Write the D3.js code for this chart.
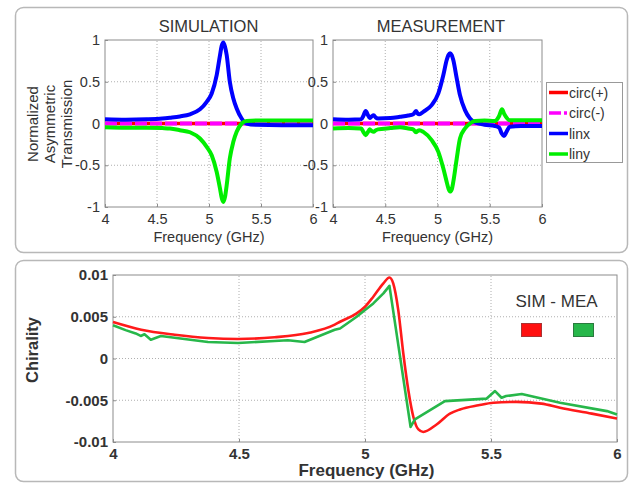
<!DOCTYPE html>
<html>
<head>
<meta charset="utf-8">
<script src="https://cdn.jsdelivr.net/npm/d3@7"></script>
<style>
  html, body { margin: 0; padding: 0; background: #fff; }
  svg { display: block; font-family: "Liberation Sans", Arial, sans-serif; }
</style>
</head>
<body>
<svg id="chart" width="630" height="484"></svg>
<script>
// ---- Asymmetric transmission, simulation ----
const simFreq = [4.0, 4.2, 4.4, 4.55, 4.625, 4.72, 4.817, 4.913, 4.978, 5.026, 5.074, 5.106, 5.122, 5.138, 5.154, 5.17, 5.2, 5.234, 5.266, 5.314, 5.36, 5.45, 5.7, 6.0];
const simLinx = [0.05, 0.045, 0.05, 0.06, 0.07, 0.085, 0.11, 0.17, 0.26, 0.36, 0.58, 0.82, 0.93, 0.97, 0.92, 0.82, 0.5, 0.30, 0.18, 0.06, 0.0, -0.015, -0.02, -0.02];
const simLiny = [-0.045, -0.05, -0.05, -0.055, -0.06, -0.08, -0.105, -0.18, -0.28, -0.38, -0.58, -0.78, -0.89, -0.94, -0.88, -0.74, -0.42, -0.22, -0.10, 0.0, 0.03, 0.035, 0.035, 0.035];
const simCircPlus = [0, 0];
const simCircMinus = [0, 0];

// ---- Asymmetric transmission, measurement ----
const meaFreq = [4.0, 4.15, 4.27, 4.29, 4.313, 4.335, 4.351, 4.37, 4.389, 4.41, 4.43, 4.55, 4.641, 4.72, 4.768, 4.794, 4.81, 4.826, 4.864, 4.944, 5.008, 5.056, 5.088, 5.105, 5.12, 5.136, 5.151, 5.184, 5.215, 5.263, 5.311, 5.359, 5.45, 5.55, 5.59, 5.615, 5.636, 5.66, 5.69, 5.8, 6.0];
const meaLinx = [0.05, 0.045, 0.05, 0.09, 0.15, 0.1, 0.065, 0.085, 0.1, 0.07, 0.06, 0.065, 0.08, 0.095, 0.11, 0.15, 0.12, 0.11, 0.14, 0.22, 0.36, 0.58, 0.76, 0.82, 0.84, 0.82, 0.76, 0.54, 0.34, 0.16, 0.06, 0.015, -0.015, -0.03, -0.05, -0.12, -0.15, -0.1, -0.04, -0.03, -0.03];
const meaLinyFreq = [4.0, 4.15, 4.27, 4.29, 4.313, 4.335, 4.351, 4.37, 4.389, 4.41, 4.43, 4.55, 4.641, 4.72, 4.768, 4.794, 4.81, 4.826, 4.864, 4.944, 5.008, 5.056, 5.088, 5.105, 5.12, 5.136, 5.151, 5.184, 5.215, 5.263, 5.311, 5.359, 5.45, 5.547, 5.59, 5.617, 5.64, 5.69, 5.8, 6.0];
const meaLiny = [-0.06, -0.055, -0.06, -0.1, -0.14, -0.1, -0.07, -0.09, -0.1, -0.08, -0.07, -0.055, -0.045, -0.06, -0.07, -0.105, -0.09, -0.08, -0.1, -0.2, -0.34, -0.54, -0.70, -0.78, -0.815, -0.79, -0.70, -0.42, -0.18, -0.06, 0.0, 0.03, 0.035, 0.03, 0.09, 0.17, 0.11, 0.04, 0.04, 0.04];
const meaCircPlus = [0, 0];
const meaCircMinus = [0, 0];

// ---- Chirality ----
const chiSimFreq = [4.0, 4.112, 4.245, 4.377, 4.496, 4.641, 4.774, 4.88, 4.901, 4.967, 5.0, 5.033, 5.073, 5.097, 5.112, 5.132, 5.152, 5.172, 5.192, 5.212, 5.231, 5.284, 5.337, 5.377, 5.45, 5.51, 5.602, 5.7, 5.774, 5.9, 6.0];
const chiSim = [0.00437, 0.00345, 0.00285, 0.00246, 0.00234, 0.00254, 0.00305, 0.00405, 0.0044, 0.0054, 0.0062, 0.0074, 0.009, 0.0097, 0.009, 0.0058, 0.0006, -0.0038, -0.007, -0.0085, -0.0088, -0.0079, -0.0066, -0.0061, -0.0056, -0.0053, -0.0052, -0.0054, -0.0059, -0.0066, -0.0072];
const chiMeaFreq = [4.0, 4.05, 4.09, 4.11, 4.125, 4.15, 4.19, 4.377, 4.496, 4.641, 4.694, 4.76, 4.88, 4.901, 4.967, 5.0, 5.033, 5.073, 5.097, 5.181, 5.198, 5.317, 5.483, 5.516, 5.542, 5.56, 5.622, 5.774, 5.96, 6.0];
const chiMea = [0.00398, 0.0034, 0.003, 0.0027, 0.0029, 0.00225, 0.0027, 0.00198, 0.00186, 0.0021, 0.00218, 0.00198, 0.00345, 0.0036, 0.005, 0.0058, 0.0066, 0.0078, 0.0087, -0.0082, -0.0073, -0.0051, -0.0048, -0.0039, -0.0047, -0.0045, -0.00425, -0.0053, -0.0063, -0.0067];

// ---- Ticks and labels ----
const freqTicks = [4, 4.5, 5, 5.5, 6];
const transTicks = [-1, -0.5, 0, 0.5, 1];
const chiTicks = [-0.01, -0.005, 0, 0.005, 0.01];
const legendNames = ["circ(+)", "circ(-)", "linx", "liny"];
const chiLegend = ["SIM - MEA"];

const TXT = "#333";
const svg = d3.select("#chart");

// panel frames
svg.append("rect").attr("x", 15.5).attr("y", 7.5).attr("width", 612).attr("height", 245)
  .attr("rx", 8).attr("fill", "#fff").attr("stroke", "#b8b8b8").attr("stroke-width", 1.5);
svg.append("rect").attr("x", 15.5).attr("y", 260.5).attr("width", 612).attr("height", 221)
  .attr("rx", 8).attr("fill", "#fff").attr("stroke", "#b8b8b8").attr("stroke-width", 1.5);

function frame(g, x, y, xTicks, yTicks, fmtY, fontSize, bold) {
  const [x0, x1] = x.range();
  const [y0, y1] = y.range();
  // grid
  g.append("g").selectAll("line").data(xTicks.slice(1, -1)).join("line")
    .attr("x1", d => x(d)).attr("x2", d => x(d)).attr("y1", y0).attr("y2", y1)
    .attr("stroke", "#9a9a9a").attr("stroke-width", 0.8).attr("stroke-dasharray", "1,2");
  g.append("g").selectAll("line").data(yTicks.slice(1, -1)).join("line")
    .attr("x1", x0).attr("x2", x1).attr("y1", d => y(d)).attr("y2", d => y(d))
    .attr("stroke", "#9a9a9a").attr("stroke-width", 0.8).attr("stroke-dasharray", "1,2");
  // box
  g.append("rect").attr("x", x0).attr("y", y1).attr("width", x1 - x0).attr("height", y0 - y1)
    .attr("fill", "none").attr("stroke", "#8c8c8c").attr("stroke-width", 1);
  // axes with inward ticks
  const ax = g.append("g").attr("transform", `translate(0,${y0})`)
    .call(d3.axisBottom(x).tickValues(xTicks).tickSizeInner(-3).tickSizeOuter(0).tickPadding(6).tickFormat(d3.format("")));
  const ay = g.append("g").attr("transform", `translate(${x0},0)`)
    .call(d3.axisLeft(y).tickValues(yTicks).tickSizeInner(-3).tickSizeOuter(0).tickPadding(5).tickFormat(fmtY));
  [ax, ay].forEach(a => {
    a.select(".domain").remove();
    a.selectAll(".tick line").attr("stroke", "#8c8c8c");
    a.selectAll(".tick text").attr("fill", TXT).attr("font-size", fontSize)
      .attr("font-weight", bold ? "bold" : "normal")
      .attr("font-family", "'Liberation Sans', Arial, sans-serif");
  });
  return { ax, ay };
}

const fmtTrans = d => (d === 0 ? "0" : String(d));

// ---------- top panels ----------
const ySim = d3.scaleLinear().domain([-1, 1]).range([207, 40]);
const xSim = d3.scaleLinear().domain([4, 6]).range([105, 313]);
const xMea = d3.scaleLinear().domain([4, 6]).range([333, 542]);

function transPanel(x, freqX, linx, freqY, liny, circP, circM, title, titleX) {
  const g = svg.append("g");
  const f = frame(g, x, ySim, freqTicks, transTicks, fmtTrans, "14.5px", false);
  f.ax.selectAll(".tick text").attr("dy", "0.75em");
  const lineX = d3.line().x(d => x(d[0])).y(d => ySim(d[1])).curve(d3.curveMonotoneX);
  const clipId = "clip" + title;
  g.append("clipPath").attr("id", clipId).append("rect")
    .attr("x", x.range()[0]).attr("y", 40).attr("width", x.range()[1] - x.range()[0]).attr("height", 167);
  const pg = g.append("g").attr("clip-path", `url(#${clipId})`);
  const dom = x.domain();
  pg.append("path").attr("d", lineX(dom.map((d, i) => [d, circP[i]])))
    .attr("fill", "none").attr("stroke", "#ff0000").attr("stroke-width", 3.5);
  pg.append("path").attr("d", lineX(dom.map((d, i) => [d, circM[i]])))
    .attr("fill", "none").attr("stroke", "#ff00ff").attr("stroke-width", 4)
    .attr("stroke-dasharray", "12,3");
  pg.append("path").attr("d", lineX(freqX.map((d, i) => [d, linx[i]])))
    .attr("fill", "none").attr("stroke", "#0000ff").attr("stroke-width", 4).attr("stroke-linejoin", "round");
  pg.append("path").attr("d", lineX(freqY.map((d, i) => [d, liny[i]])))
    .attr("fill", "none").attr("stroke", "#00ee00").attr("stroke-width", 4).attr("stroke-linejoin", "round");
  g.append("text").attr("x", titleX).attr("y", 32).attr("text-anchor", "middle")
    .attr("font-size", "16.5px").attr("fill", TXT).text(title);
  g.append("text").attr("x", (x.range()[0] + x.range()[1]) / 2).attr("y", 242).attr("text-anchor", "middle")
    .attr("font-size", "14.5px").attr("fill", TXT).text("Frequency (GHz)");
  return g;
}

transPanel(xSim, simFreq, simLinx, simFreq, simLiny, simCircPlus, simCircMinus, "SIMULATION", 208.5);
transPanel(xMea, meaFreq, meaLinx, meaLinyFreq, meaLiny, meaCircPlus, meaCircMinus, "MEASUREMENT", 441);

// y label (three lines, rotated)
["Normalized", "Asymmetric", "Transmission"].forEach((t, i) => {
  svg.append("text").attr("transform", `translate(${32 + i * 17},124) rotate(-90)`)
    .attr("text-anchor", "middle").attr("dominant-baseline", "central")
    .attr("font-size", "15px").attr("fill", TXT).text(t);
});

// legend for the top panels
const lg = svg.append("g");
lg.append("rect").attr("x", 546.5).attr("y", 82.5).attr("width", 76).attr("height", 80)
  .attr("fill", "#fff").attr("stroke", "#999").attr("stroke-width", 1);
const legendStyle = [
  { c: "#ff0000", dash: null },
  { c: "#ff00ff", dash: "12,3,3,3" },
  { c: "#0000ff", dash: null },
  { c: "#00ee00", dash: null }
];
legendNames.forEach((n, i) => {
  const yy = 92.5 + i * 20.5;
  lg.append("line").attr("x1", 549).attr("x2", 568).attr("y1", yy).attr("y2", yy)
    .attr("stroke", legendStyle[i].c).attr("stroke-width", 3.5)
    .attr("stroke-dasharray", legendStyle[i].dash);
  lg.append("text").attr("x", 569).attr("y", yy).attr("dominant-baseline", "central")
    .attr("font-size", "14px").attr("fill", TXT).text(n);
});

// ---------- chirality panel ----------
const xChi = d3.scaleLinear().domain([4, 6]).range([113, 617]);
const yChi = d3.scaleLinear().domain([-0.01, 0.01]).range([442, 275]);
const gc = svg.append("g");
const fc = frame(gc, xChi, yChi, freqTicks, chiTicks, d => (d === 0 ? "0" : String(d)), "15px", true);
fc.ax.selectAll(".tick text").attr("dy", "0.7em");
const lineChi = d3.line().x(d => xChi(d[0])).y(d => yChi(d[1]));
gc.append("path").attr("d", lineChi.curve(d3.curveMonotoneX)(chiSimFreq.map((d, i) => [d, chiSim[i]])))
  .attr("fill", "none").attr("stroke", "#ff1a1a").attr("stroke-width", 2.6).attr("stroke-linejoin", "round");
gc.append("path").attr("d", lineChi.curve(d3.curveLinear)(chiMeaFreq.map((d, i) => [d, chiMea[i]])))
  .attr("fill", "none").attr("stroke", "#27b74a").attr("stroke-width", 2.6).attr("stroke-linejoin", "round");

gc.append("text").attr("x", 556.5).attr("y", 307).attr("text-anchor", "middle")
  .attr("font-size", "17px").attr("fill", TXT).text(chiLegend[0]);
gc.append("rect").attr("x", 521.5).attr("y", 323.5).attr("width", 20).attr("height", 13)
  .attr("fill", "#ff1010").attr("stroke", "#a33").attr("stroke-width", 1);
gc.append("rect").attr("x", 573.5).attr("y", 323.5).attr("width", 20).attr("height", 13)
  .attr("fill", "#27b74a").attr("stroke", "#2a7a3e").attr("stroke-width", 1);

gc.append("text").attr("transform", "translate(32,350) rotate(-90)")
  .attr("text-anchor", "middle").attr("dominant-baseline", "central")
  .attr("font-size", "16.5px").attr("font-weight", "bold").attr("fill", TXT).text("Chirality");
gc.append("text").attr("x", 366.5).attr("y", 476).attr("text-anchor", "middle")
  .attr("font-size", "17px").attr("font-weight", "bold").attr("fill", TXT).text("Frequency (GHz)");
</script>
</body>
</html>
